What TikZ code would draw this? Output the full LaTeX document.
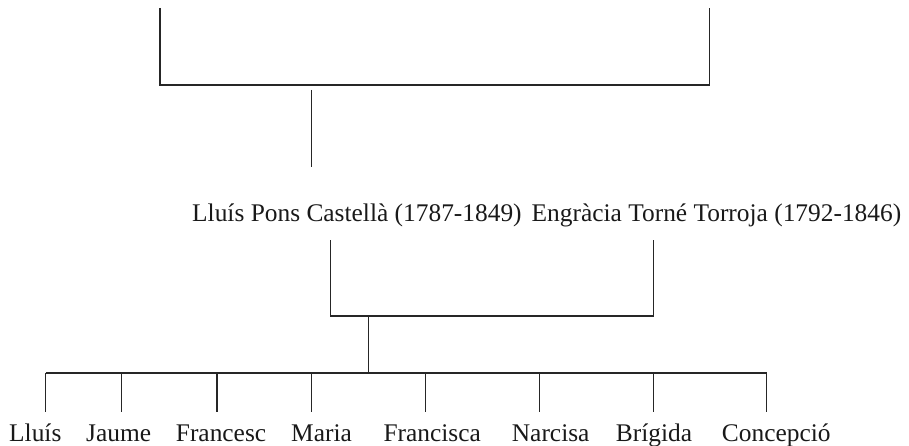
\documentclass[tikz,border=0pt]{standalone}
\usepackage{fontspec}
\setmainfont{Liberation Serif}
\begin{document}
\begin{tikzpicture}[x=1pt,y=-1pt,
  person/.style={anchor=base west,inner sep=0pt,text=black!90,font=\fontsize{25.4}{30}\selectfont},
  link/.style={draw=black!85,line width=1.3pt,line cap=butt}]
\useasboundingbox (0,0) rectangle (909,446);
% top bracket
\coordinate (tl) at (160,8);
\coordinate (tr) at (709.6,8);
\coordinate (tm) at (311.3,90);
\coordinate (tb) at (311.3,166.7);
\draw[link,line width=1.6pt] (tl) |- (709.6,85) -- (tr);
\draw[link] (tm) -- (tb);
% parents
\node[person] (p1) at (192,221.5) {Lluís Pons Castellà (1787-1849)};
\node[person] (p2) at (531.5,221.5) {Engràcia Torné Torroja (1792-1846)};
\coordinate (p1d) at (330.4,240);
\coordinate (p2d) at (653.3,240);
\coordinate (fam) at (368.7,316);
\draw[link] (p1d) |- (fam) -| (p2d);
% children
\node[person] (c1) at (9,441) {Lluís};
\node[person] (c2) at (86,441) {Jaume};
\node[person] (c3) at (175.7,441) {Francesc};
\node[person] (c4) at (291,441) {Maria};
\node[person] (c5) at (383.3,441) {Francisca};
\node[person] (c6) at (511.7,441) {Narcisa};
\node[person] (c7) at (615.7,441) {Brígida};
\node[person] (c8) at (721.7,441) {Concepció};
\coordinate (bar) at (368.7,373);
\draw[link] (fam) -- (bar);
\draw[link] (45.7,373) -- (766.7,373);
\foreach \x/\c in {45.7/c1,121.7/c2,217/c3,311.7/c4,425.5/c5,539.3/c6,653.3/c7,766.7/c8}{
  \coordinate (\c top) at (\x,373);
  \draw[link] (\c top) -- (\x,411.7);
}
\end{tikzpicture}
\end{document}
